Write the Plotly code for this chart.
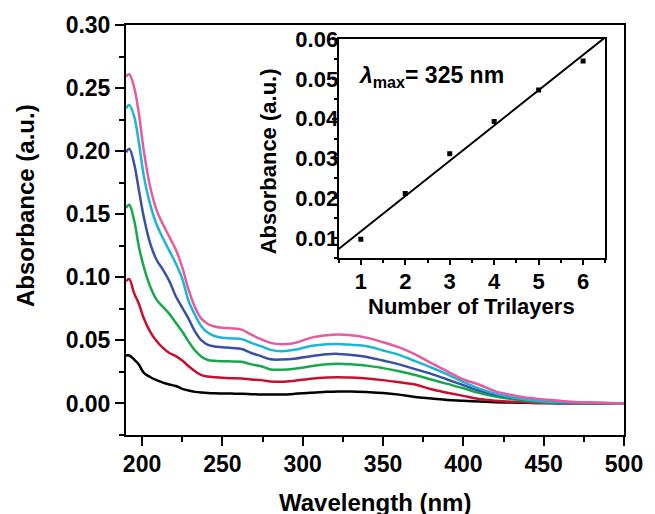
import numpy as np
import plotly.graph_objects as go

# UV-vis spectra of multilayer films (1 to 6 trilayers)
wavelength = [190, 192, 195, 198, 201, 205, 209, 213, 217, 221, 225, 229, 233, 237, 241, 245,
              250, 256, 262, 268, 274, 280, 287, 295, 305, 315, 322, 330, 340, 350, 360, 370,
              380, 390, 400, 410, 420, 430, 440, 450, 465, 480, 500]

abs_1 = [0.038, 0.038, 0.035, 0.0308, 0.0245, 0.021, 0.0185, 0.0165, 0.015, 0.0138, 0.0116, 0.0102,
         0.0092, 0.0086, 0.0082, 0.008, 0.0079, 0.0078, 0.0077, 0.0074, 0.0071, 0.0071, 0.0071,
         0.0076, 0.0085, 0.0092, 0.0095, 0.0095, 0.009, 0.0083, 0.007, 0.0052, 0.004, 0.0028,
         0.0022, 0.0015, 0.001, 0.0007, 0.0005, 0.0003, 0.0002, 0.0001, 0.0]
abs_2 = [0.097, 0.0985, 0.0876, 0.079, 0.0678, 0.057, 0.0495, 0.044, 0.040, 0.0375, 0.034, 0.0295,
         0.0255, 0.0225, 0.0213, 0.0208, 0.0203, 0.020, 0.0198, 0.019, 0.0185, 0.0174, 0.0172,
         0.018, 0.0195, 0.0205, 0.0208, 0.0205, 0.0198, 0.0185, 0.0168, 0.015, 0.0112, 0.0085,
         0.006, 0.0035, 0.0022, 0.0013, 0.0008, 0.0003, 0.0002, 0.0001, 0.0]
abs_3 = [0.155, 0.1575, 0.1456, 0.1245, 0.1087, 0.0929, 0.0823, 0.0765, 0.071, 0.064, 0.057, 0.049,
         0.042, 0.037, 0.0345, 0.0338, 0.0335, 0.0333, 0.033, 0.031, 0.0295, 0.027, 0.0267,
         0.0275, 0.0295, 0.031, 0.0315, 0.031, 0.030, 0.028, 0.0255, 0.0225, 0.019, 0.0155,
         0.012, 0.0082, 0.0055, 0.0035, 0.002, 0.001, 0.0005, 0.0002, 0.0]
abs_4 = [0.199, 0.202, 0.1904, 0.1693, 0.1482, 0.1271, 0.1139, 0.106, 0.097, 0.085, 0.076, 0.067,
         0.057, 0.050, 0.0465, 0.0452, 0.0446, 0.044, 0.0432, 0.040, 0.0375, 0.035, 0.0348,
         0.0355, 0.0375, 0.039, 0.0393, 0.0385, 0.0369, 0.034, 0.031, 0.0272, 0.0235, 0.019,
         0.0145, 0.010, 0.0068, 0.0045, 0.0028, 0.0015, 0.0007, 0.0003, 0.0]
abs_5 = [0.234, 0.2365, 0.228, 0.207, 0.181, 0.158, 0.142, 0.131, 0.121, 0.111, 0.099, 0.081,
         0.070, 0.061, 0.056, 0.0535, 0.052, 0.0515, 0.051, 0.048, 0.0454, 0.0425, 0.0414,
         0.0425, 0.0455, 0.047, 0.0472, 0.0465, 0.0453, 0.042, 0.0385, 0.0335, 0.0285, 0.023,
         0.017, 0.0118, 0.0078, 0.005, 0.003, 0.0016, 0.001, 0.0005, 0.0]
abs_6 = [0.259, 0.261, 0.251, 0.230, 0.201, 0.172, 0.1535, 0.142, 0.132, 0.122, 0.108, 0.090,
         0.076, 0.067, 0.063, 0.061, 0.060, 0.0595, 0.0585, 0.0545, 0.051, 0.048, 0.047,
         0.048, 0.052, 0.054, 0.0546, 0.054, 0.052, 0.0485, 0.0445, 0.039, 0.032, 0.0255,
         0.019, 0.0148, 0.0096, 0.0068, 0.0045, 0.0032, 0.0015, 0.0007, 0.0]

spectra = [abs_1, abs_2, abs_3, abs_4, abs_5, abs_6]
colors = ["#000000", "#c8102e", "#17a84b", "#3a4fa6", "#1bb5d6", "#e75a9e"]

# Absorbance at lambda_max = 325 nm versus number of trilayers
trilayers = [1, 2, 3, 4, 5, 6]
abs_325 = [0.0097, 0.0212, 0.0312, 0.0393, 0.0472, 0.0545]

FONT = "Liberation Sans, Arial, sans-serif"

fig = go.Figure()

for ys, c in zip(spectra, colors):
    fig.add_trace(go.Scatter(x=wavelength, y=ys, mode="lines", line_shape="spline",
                             line=dict(color=c, width=2.5), showlegend=False,
                             xaxis="x", yaxis="y"))

# linear fit for the inset
slope, intercept = np.polyfit(trilayers, abs_325, 1)
fit_x = np.array([0.5, 6.5])
fig.add_trace(go.Scatter(x=fit_x, y=slope * fit_x + intercept, mode="lines",
                         line=dict(color="black", width=2), showlegend=False,
                         xaxis="x2", yaxis="y2"))
fig.add_trace(go.Scatter(x=trilayers, y=abs_325, mode="markers",
                         marker=dict(symbol="square", size=5, color="black"),
                         showlegend=False, xaxis="x2", yaxis="y2"))

axis_common = dict(showgrid=False, zeroline=False, showline=True, linecolor="black",
                   linewidth=2, mirror=True, ticks="outside", tickcolor="black",
                   tickwidth=2)

fig.update_layout(
    width=655, height=514,
    margin=dict(l=126, r=23, t=25, b=79),
    paper_bgcolor="white", plot_bgcolor="white",
    font=dict(family=FONT, color="black", size=22, weight="bold"),
    xaxis=dict(**axis_common, range=[190, 500], tick0=200, dtick=50, ticklen=9,
               tickfont=dict(size=23, weight="bold"), ticklabelstandoff=-2,
               minor=dict(ticks="outside", ticklen=5, tickwidth=2, tickcolor="black",
                          tick0=225, dtick=50),
               domain=[0, 1], anchor="y"),
    yaxis=dict(**axis_common, range=[-0.025, 0.30], tick0=0, dtick=0.05, ticklen=9,
               tickformat=".2f", tickfont=dict(size=23, weight="bold"),
               minor=dict(ticks="outside", ticklen=5, tickwidth=2, tickcolor="black",
                          tick0=0.025, dtick=0.05),
               domain=[0, 1], anchor="x"),
    xaxis2=dict(**axis_common, range=[0.5, 6.5], tick0=1, dtick=1, ticklen=5,
                tickfont=dict(size=22, weight="bold"), ticklabelstandoff=-2,
                minor=dict(ticks="outside", ticklen=3, tickwidth=2, tickcolor="black",
                           tick0=0.5, dtick=1),
                domain=[0.4269, 0.9625], anchor="y2"),
    yaxis2=dict(**axis_common, range=[0.005, 0.06], tick0=0.01, dtick=0.01, ticklen=5,
                tickformat=".2f", tickfont=dict(size=22, weight="bold"),
                ticklabelstandoff=-11,
                minor=dict(ticks="outside", ticklen=3, tickwidth=2, tickcolor="black",
                           tick0=0.005, dtick=0.01),
                domain=[0.4317, 0.9659], anchor="x2"),
)

annotations = [
    dict(text="Wavelength (nm)", xref="paper", yref="paper", x=0.5, y=0,
         yshift=-67, showarrow=False, font=dict(size=24, weight="bold"),
         xanchor="center", yanchor="middle"),
    dict(text="Absorbance (a.u.)", xref="paper", yref="paper", x=0, y=0.5585,
         xshift=-101, textangle=-90, showarrow=False, font=dict(size=24, weight="bold"),
         xanchor="center", yanchor="middle"),
    dict(text="Absorbance (a.u.)", xref="paper", yref="paper", x=0.4269, y=0.6666,
         xshift=-70, textangle=-90, showarrow=False, font=dict(size=22, weight="bold"),
         xanchor="center", yanchor="middle"),
    dict(text="Number of Trilayers", xref="paper", yref="paper", x=0.6947, y=0.3195,
         yshift=-2, showarrow=False, font=dict(size=22, weight="bold"),
         xanchor="center", yanchor="middle"),
    dict(text="<i>λ</i><sub>max</sub>= 325 nm", xref="x2", yref="y2", x=0.9, y=0.0505,
         showarrow=False, font=dict(size=23, weight="bold"),
         xanchor="left", yanchor="middle"),
]
fig.update_layout(annotations=annotations)

fig.write_html("out.html")
